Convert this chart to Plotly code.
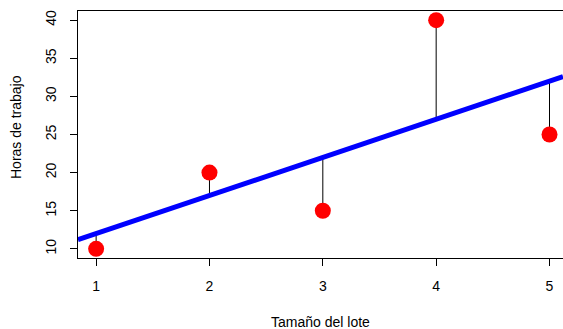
import numpy as np
import plotly.graph_objects as go

# Lot size vs. labour hours
tamano_lote = [1, 2, 3, 4, 5]
horas_trabajo = [10, 20, 15, 40, 25]
x_ticks = [1, 2, 3, 4, 5]
y_ticks = [10, 15, 20, 25, 30, 35, 40]

x = np.array(tamano_lote, dtype=float)
y = np.array(horas_trabajo, dtype=float)

# least-squares fit
pendiente, intercepto = np.polyfit(x, y, 1)
ajustados = intercepto + pendiente * x

x_range = [0.84, 5.119]
y_range = [8.8, 41.2]

fig = go.Figure()

# residual segments from each point to the fitted line
seg_x, seg_y = [], []
for xi, yi, fi in zip(x, y, ajustados):
    seg_x += [xi, xi, None]
    seg_y += [yi, fi, None]
fig.add_trace(go.Scatter(x=seg_x, y=seg_y, mode="lines",
                         line=dict(color="black", width=1),
                         hoverinfo="skip", showlegend=False))

# regression line across the full plotting region
lx = np.array([x_range[0], x_range[1]])
fig.add_trace(go.Scatter(x=lx, y=intercepto + pendiente * lx, mode="lines",
                         line=dict(color="#0000ff", width=5),
                         showlegend=False))

# observations
fig.add_trace(go.Scatter(x=x, y=y, mode="markers",
                         marker=dict(color="#ff0000", size=16, line=dict(width=0)),
                         showlegend=False))

font = dict(family="Liberation Sans, Arial, sans-serif", size=14, color="black")
tick_font = dict(family="Liberation Sans, Arial, sans-serif", size=14, color="black")

fig.update_layout(
    width=563, height=329,
    margin=dict(l=78, r=0, t=11, b=71),
    paper_bgcolor="white", plot_bgcolor="white",
    font=font,
    xaxis=dict(range=x_range, tickvals=x_ticks, ticks="outside", ticklen=7,
               tickcolor="black", tickwidth=1, showline=True, linecolor="black",
               linewidth=1, mirror=True, showgrid=False, zeroline=False,
               ticklabelstandoff=8, tickfont=tick_font, fixedrange=True),
    yaxis=dict(range=y_range, tickvals=y_ticks, ticks="outside", ticklen=7,
               tickcolor="black", tickwidth=1, showline=True, linecolor="black",
               linewidth=1, showgrid=False, zeroline=False, tickangle=-90,
               ticklabelstandoff=8, tickfont=tick_font, fixedrange=True),
    annotations=[
        dict(text="Tamaño del lote", xref="paper", yref="paper",
             x=(320 - 78) / 485, y=0, yshift=-64, showarrow=False,
             xanchor="center", yanchor="middle", font=font),
        dict(text="Horas de trabajo", xref="paper", yref="paper",
             x=0, xshift=-62, y=(258 - 127) / 247, textangle=-90, showarrow=False,
             xanchor="center", yanchor="middle", font=font),
    ],
)

fig.write_html("out.html")
